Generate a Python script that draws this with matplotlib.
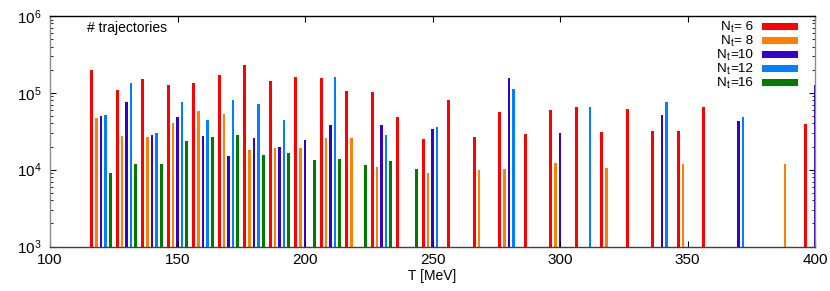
import numpy as np
import matplotlib
matplotlib.use("Agg")
import matplotlib.pyplot as plt
from matplotlib.patches import Rectangle

plt.rcParams['font.family'] = ['Liberation Sans', 'DejaVu Sans']

nan = np.nan
# temperature bins (MeV)
T_bins = list(range(120, 401, 10))
#            120     130     140     150     160     170     180     190     200     210     220     230     240     250     260     270     280     290     300     310     320     330     340     350     360     370     380     390     400
nt6  = [1.98e5, 1.10e5, 1.53e5, 1.25e5, 1.34e5, 1.71e5, 2.28e5, 1.43e5, 1.61e5, 1.56e5, 1.07e5, 1.02e5, 4.80e4, 2.51e4, 8.07e4, 2.69e4, 5.63e4, 2.89e4, 5.93e4, 6.48e4, 3.09e4, 6.22e4, 3.16e4, 3.19e4, 6.48e4, nan,    nan,    nan,    3.93e4]
nt8  = [4.70e4, 2.74e4, 2.69e4, 4.09e4, 5.85e4, 5.35e4, 1.80e4, 1.93e4, 1.93e4, 2.58e4, 2.58e4, 1.08e4, nan,    9.05e3, nan,    9.90e3, 1.03e4, nan,    1.22e4, nan,    1.06e4, nan,    nan,    1.19e4, nan,    nan,    nan,    1.20e4, nan]
nt10 = [4.99e4, 7.60e4, 2.80e4, 4.89e4, 2.72e4, 1.49e4, 2.56e4, 1.99e4, 2.41e4, 3.85e4, nan,    3.85e4, nan,    3.35e4, nan,    nan,    1.57e5, nan,    3.03e4, nan,    nan,    nan,    5.19e4, nan,    nan,    4.26e4, nan,    nan,    1.27e5]
nt12 = [5.10e4, 1.33e5, 2.97e4, 7.60e4, 4.39e4, 8.00e4, 7.09e4, 4.43e4, nan,    1.59e5, nan,    2.83e4, nan,    3.56e4, nan,    nan,    1.12e5, nan,    nan,    6.48e4, nan,    nan,    7.60e4, nan,    nan,    4.85e4, nan,    nan,    nan]
nt16 = [9.05e3, 1.19e4, 1.18e4, 2.34e4, 2.64e4, 2.80e4, 1.54e4, 1.65e4, 1.35e4, 1.36e4, 1.14e4, 1.31e4, 1.03e4, nan,    nan,    nan,    nan,    nan,    nan,    nan,    nan,    nan,    nan,    nan,    nan,    nan,    nan,    nan,    nan]

series = [nt6, nt8, nt10, nt12, nt16]
label_tails = ['= 6', '= 8', '=10', '=12', '=16']   # labels read "N_t= 6" etc.
colors = ['#ff0000', '#ff8000', '#3300cc', '#0080ff', '#007a00']

W, H = 830, 291
L, R, B, Tp = 50, 815, 246.5, 16
fig = plt.figure(figsize=(W / 100, H / 100), dpi=100)
ax = fig.add_axes([L / W, 1 - B / H, (R - L) / W, (B - Tp) / H])

x = np.array(T_bins, dtype=float)
step = 1.8
bw = 1.1
for k, (vals, c) in enumerate(zip(series, colors)):
    v = np.array(vals, dtype=float)
    m = ~np.isnan(v)
    ax.bar(x[m] + (k - 2) * step, v[m] - 1e3, bottom=1e3, width=bw, color=c,
           linewidth=0, clip_on=True)

ax.set_yscale('log')
ax.set_ylim(1e3, 1e6)
ax.set_xlim(100, 400)
ax.set_xticks(range(100, 401, 50))
ax.tick_params(axis='both', which='both', direction='in', top=True, right=True,
               labelsize=11, colors='#000000')
ax.tick_params(axis='both', which='major', length=4, width=0.8, pad=6)
ax.tick_params(axis='y', which='minor', length=2, width=0.6)
ax.tick_params(axis='x', which='major', pad=5)
for s in ['left', 'right']:
    ax.spines[s].set_color('#8a8a8a')
ax.spines['bottom'].set_color('#404040')
ax.spines['top'].set_color('#000000')
for s in ax.spines.values():
    s.set_linewidth(1.0)

ax.set_xlabel('T [MeV]', fontsize=10, labelpad=1)


def ax_xy(px, py):
    return (px - L) / (R - L), (B - py) / (B - Tp)


tx, ty = ax_xy(87, 28)
ax.text(tx, ty, '# trajectories', transform=ax.transAxes, fontsize=10,
        ha='left', va='center')

# legend drawn as key: "N" + subscript "t" + tail
for i, (tail, c) in enumerate(zip(label_tails, colors)):
    py = 26.7 + 13.9 * i
    xt, yt = ax_xy(753, py + 3.3)
    t1 = ax.text(xt, yt, tail, transform=ax.transAxes, fontsize=9.7,
                 ha='right', va='baseline')
    t2 = ax.annotate('t', xy=(0, 0), xycoords=t1, xytext=(-0.2, -1.0),
                     textcoords='offset points', fontsize=7, ha='right',
                     va='bottom')
    ax.annotate('N', xy=(0, 0), xycoords=t2, xytext=(-0.1, 1.0),
                textcoords='offset points', fontsize=9.7, ha='right',
                va='bottom')
    x0, y0 = ax_xy(762, py + 3.4)
    x1, y1 = ax_xy(798, py - 3.4)
    ax.add_patch(Rectangle((x0, y0), x1 - x0, y1 - y0, transform=ax.transAxes,
                           facecolor=c, edgecolor='none', clip_on=False))

fig.savefig('out.png', dpi=100)
